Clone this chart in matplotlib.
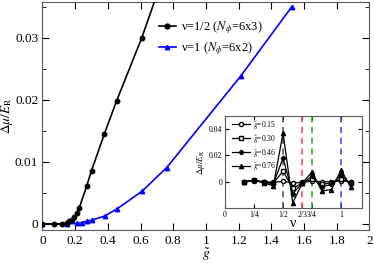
import numpy as np
import matplotlib
matplotlib.use('Agg')
import matplotlib.pyplot as plt

plt.rcParams['font.family'] = ['Liberation Serif', 'DejaVu Serif']
plt.rcParams['mathtext.fontset'] = 'stix'

# main panel data
g_half = [0.0, 0.072, 0.117, 0.148, 0.164, 0.178, 0.193, 0.209, 0.225, 0.27, 0.30, 0.378, 0.454, 0.607, 0.70]
mu_half = [0.0, 0.0, 0.0, 0.0001, 0.0004, 0.0006, 0.0011, 0.0018, 0.0026, 0.0061, 0.0086, 0.0145, 0.0199, 0.0300, 0.0370]
half_marked = 14  # last point is only where the line leaves the frame

g_one = [0.0, 0.148, 0.213, 0.24, 0.275, 0.30, 0.382, 0.454, 0.61, 0.76, 1.214, 1.524]
mu_one = [0.0, 0.0, 0.0001, 0.0002, 0.0005, 0.0006, 0.0013, 0.0024, 0.0053, 0.0091, 0.0239, 0.0350]

# inset data
nu = [k / 12 for k in range(2, 14)]
d015 = [0.0, 0.0005, 0.0, -0.0005, 0.0003, -0.001, -0.0005, 0.0005, 0.0, 0.0, 0.0008, 0.0]
d030 = [0.0, 0.001, 0.0, -0.001, 0.008, -0.005, -0.001, 0.002, -0.002, -0.001, 0.002, -0.001]
d046 = [0.0, 0.001, -0.0005, -0.0015, 0.018, -0.009, -0.001, 0.004, -0.004, -0.002, 0.005, -0.002]
d076 = [0.0, 0.0015, -0.001, -0.003, 0.037, -0.016, -0.001, 0.0075, -0.007, -0.006, 0.009, -0.004]

fig = plt.figure(figsize=(3.74, 2.63), dpi=100)
ax = fig.add_axes([0.1136, 0.1255, 0.8743, 0.867])

ax.plot(g_half, mu_half, color='black', lw=1.2, zorder=3)
ax.plot(g_half[:half_marked], mu_half[:half_marked], 'o', color='black', ms=3.2, zorder=3)
ax.plot([], [], 'o-', color='black', ms=3.5, lw=1.2, label=r'ν=1/2 ($N_{\phi}$=6x3)')
ax.plot(g_one, mu_one, '^-', color='blue', ms=3.2, lw=1.2, label=r'ν=1 ($N_{\phi}$=6x2)')

ax.set_xlim(0, 2)
ax.set_ylim(-0.00097, 0.0358)
ax.set_xticks(np.arange(0, 2.01, 0.2))
ax.set_xticklabels(['0', '0.2', '0.4', '0.6', '0.8', '1', '1.2', '1.4', '1.6', '1.8', '2'])
ax.set_yticks([0, 0.01, 0.02, 0.03])
ax.set_yticklabels(['0', '0.01', '0.02', '0.03'])
ax.set_yticks([0.005, 0.015, 0.025, 0.035], minor=True)
ax.tick_params(which='both', direction='in', top=True, right=True, labelsize=9.5, pad=3)
ax.tick_params(axis='x', pad=3.5)
ax.tick_params(which='major', length=5)
ax.tick_params(which='minor', length=3)
for s in ax.spines.values():
    s.set_color('0.35')
ax.set_xlabel(r'$\tilde{g}$', fontsize=10)
ax.xaxis.set_label_coords(0.5, -0.07)
ax.set_ylabel(r'$\Delta\mu/E_{\mathrm{R}}$', fontsize=9.5, labelpad=0)
ax.legend(loc='upper left', bbox_to_anchor=(0.355, 0.925), frameon=False, fontsize=9,
          handlelength=1.4, handletextpad=0.4, labelspacing=0.35, borderpad=0, borderaxespad=0)

# inset
ins = fig.add_axes([0.6016, 0.209, 0.3663, 0.350])
ins.axvline(0.5, color='0.3', ls=(0, (4, 3)), lw=1.1)
ins.axvline(2 / 3, color='#ff4040', ls=(0, (4, 3)), lw=1.1)
ins.axvline(0.75, color='#20a020', ls=(0, (4, 3)), lw=1.1)
ins.axvline(1.0, color='#3040ff', ls=(0, (4, 3)), lw=1.1)
ins.plot(nu, d015, 'o-', color='black', mfc='white', ms=3, lw=0.9, label=r'$\tilde{g}$=0.15')
ins.plot(nu, d030, 's-', color='black', mfc='white', ms=3, lw=0.9, label=r'$\tilde{g}$=0.30')
ins.plot(nu, d046, 'D-', color='black', ms=2.3, lw=0.9, label=r'$\tilde{g}$=0.46')
ins.plot(nu, d076, '^-', color='black', ms=3, lw=0.9, label=r'$\tilde{g}$=0.76')
ins.set_xlim(0, 1.18)
ins.set_ylim(-0.02, 0.05)
ins.set_xticks([0, 0.25, 0.5, 2 / 3, 0.75, 1])
ins.set_xticklabels(['0', '1/4', '1/2', '2/3', '3/4', '1'])
ins.set_yticks([0, 0.02, 0.04])
ins.set_yticklabels(['0', '0.02', '0.04'])
ins.tick_params(which='both', direction='in', top=True, right=True, labelsize=5.6, length=3, pad=2)
for s in ins.spines.values():
    s.set_color('0.35')
ins.set_xlabel('ν', fontsize=10, labelpad=-1)
ins.set_ylabel(r'$\Delta\mu/E_{\mathrm{R}}$', fontsize=6.5, labelpad=1)
ins.legend(loc='upper left', bbox_to_anchor=(0.05, 0.97), frameon=False, fontsize=5.5,
           handlelength=2.4, handletextpad=0.4, labelspacing=0.25, borderpad=0, borderaxespad=0)

fig.savefig('out.png', dpi=100)
